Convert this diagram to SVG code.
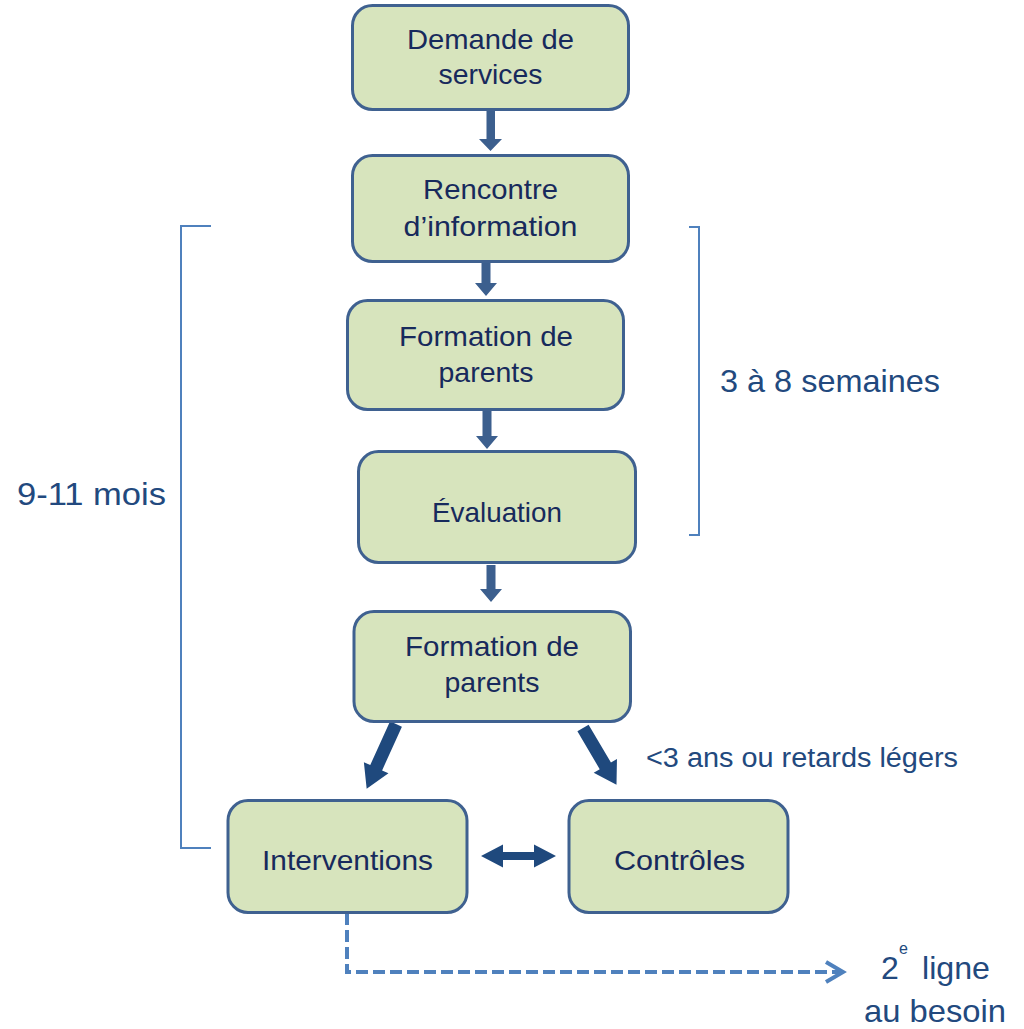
<svg xmlns="http://www.w3.org/2000/svg" width="1024" height="1029" viewBox="0 0 1024 1029">
<defs>
<style>
.box{fill:#d7e4bd;stroke:#3f6190;stroke-width:3}
.bt{font-family:"Liberation Sans",Arial,sans-serif;font-size:28px;fill:#172a5c;text-anchor:middle}
.lbl{font-family:"Liberation Sans",Arial,sans-serif;fill:#22497e}
.varrow{fill:#3c5f8e}
.darrow{fill:#1f497d}
.brk{fill:none;stroke:#4f81bd;stroke-width:2}
.dash{fill:none;stroke:#4f81bd;stroke-width:4;stroke-dasharray:12 5}
.chev{fill:none;stroke:#4f81bd;stroke-width:4;stroke-linejoin:miter}
</style>
</defs>
<rect width="1024" height="1029" fill="#ffffff"/>

<g id="connectors">
<polygon class="varrow" points="486.5,111 495,111 495,139 502,139 490.5,151 479,139 486.5,139"/>
<polygon class="varrow" points="481.5,262 490.5,262 490.5,283 497,283 486,296 475,283 481.5,283"/>
<polygon class="varrow" points="482.5,411 491.5,411 491.5,436 498,436 487,449 476,436 482.5,436"/>
<polygon class="varrow" points="486.5,565 495.5,565 495.5,589 502,589 491,602 480,589 486.5,589"/>
<polygon class="darrow" transform="translate(396,724) rotate(24.4)" points="-6.5,0 6.5,0 6.5,48 13.5,48 0,71 -13.5,48 -6.5,48"/>
<polygon class="darrow" transform="translate(583,728) rotate(-30.5)" points="-6.5,0 6.5,0 6.5,44 13.5,44 0,66 -13.5,44 -6.5,44"/>
<polygon class="darrow" points="481,856 503,844.5 503,852 534,852 534,844.5 556,856 534,867.5 534,860 503,860 503,867.5"/>
<path class="dash" d="M347,913 V972 H841"/>
<path class="chev" d="M826,962 L843,972 L826,982"/>
</g>

<g id="brackets">
<path class="brk" d="M211,226 H181 V848 H211"/>
<path class="brk" d="M689,227 H699 V535 H689"/>
</g>

<g id="n1">
<rect class="box" x="352.5" y="5.5" width="276" height="104" rx="20"/>
<text class="bt" x="490.5" y="49" textLength="167" lengthAdjust="spacingAndGlyphs">Demande de</text>
<text class="bt" x="490.5" y="84" textLength="104" lengthAdjust="spacingAndGlyphs">services</text>
</g>
<g id="n2">
<rect class="box" x="352.5" y="155.5" width="276" height="106" rx="20"/>
<text class="bt" x="490.5" y="199" textLength="135" lengthAdjust="spacingAndGlyphs">Rencontre</text>
<text class="bt" x="490.5" y="236" textLength="174" lengthAdjust="spacingAndGlyphs">d’information</text>
</g>
<g id="n3">
<rect class="box" x="347.5" y="300.5" width="276" height="109" rx="20"/>
<text class="bt" x="486" y="346" textLength="174" lengthAdjust="spacingAndGlyphs">Formation de</text>
<text class="bt" x="486" y="382" textLength="95" lengthAdjust="spacingAndGlyphs">parents</text>
</g>
<g id="n4">
<rect class="box" x="358.5" y="451.5" width="277" height="111" rx="20"/>
<text class="bt" x="497" y="522" textLength="130" lengthAdjust="spacingAndGlyphs">Évaluation</text>
</g>
<g id="n5">
<rect class="box" x="354" y="611.5" width="276.5" height="110" rx="20"/>
<text class="bt" x="492" y="656" textLength="174" lengthAdjust="spacingAndGlyphs">Formation de</text>
<text class="bt" x="492" y="692" textLength="95" lengthAdjust="spacingAndGlyphs">parents</text>
</g>
<g id="n6">
<rect class="box" x="228" y="800.5" width="239" height="112" rx="20"/>
<text class="bt" x="347.5" y="870" textLength="171" lengthAdjust="spacingAndGlyphs">Interventions</text>
</g>
<g id="n7">
<rect class="box" x="569" y="800.5" width="219" height="112" rx="20"/>
<text class="bt" x="679.5" y="870" textLength="131" lengthAdjust="spacingAndGlyphs">Contrôles</text>
</g>

<g id="labels">
<text class="lbl" x="17" y="505" font-size="32" textLength="149" lengthAdjust="spacingAndGlyphs">9-11 mois</text>
<text class="lbl" x="720" y="392" font-size="32" textLength="220" lengthAdjust="spacingAndGlyphs">3 à 8 semaines</text>
<text class="lbl" x="646" y="767" font-size="27" textLength="312" lengthAdjust="spacingAndGlyphs">&lt;3 ans ou retards légers</text>
<text class="lbl" x="881" y="979" font-size="32">2</text>
<text class="lbl" x="899" y="954" font-size="16">e</text>
<text class="lbl" x="922" y="979" font-size="32" textLength="68" lengthAdjust="spacingAndGlyphs">ligne</text>
<text class="lbl" x="864" y="1022" font-size="32" textLength="142" lengthAdjust="spacingAndGlyphs">au besoin</text>
</g>
</svg>
